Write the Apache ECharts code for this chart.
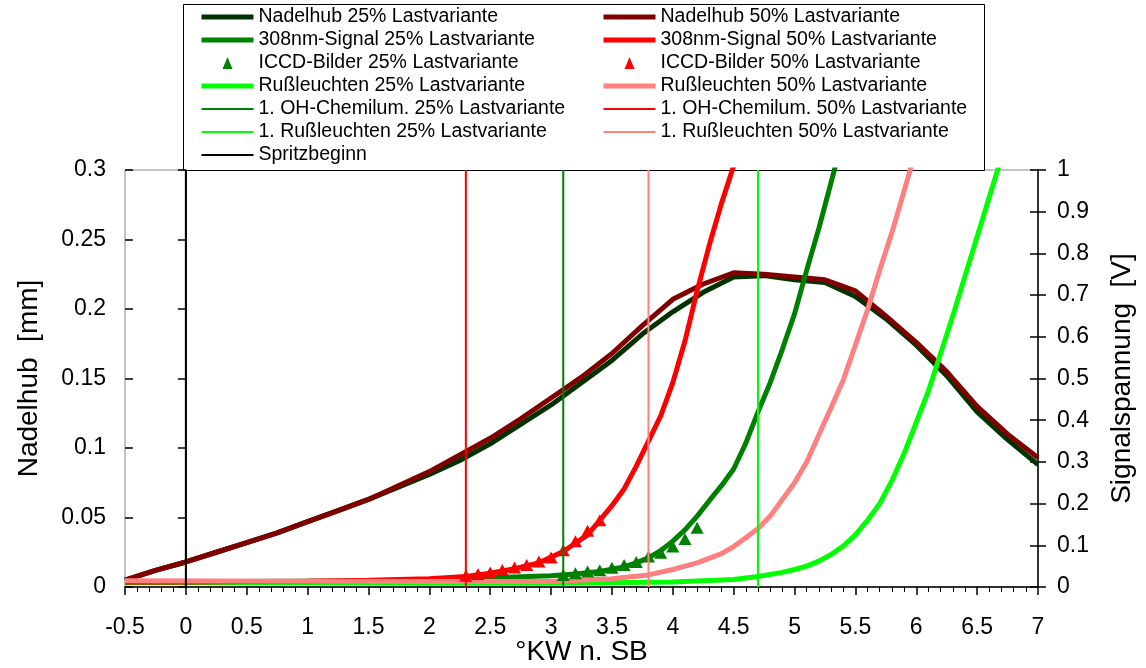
<!DOCTYPE html>
<html>
<head>
<meta charset="utf-8">
<script src="https://cdn.jsdelivr.net/npm/echarts@6/dist/echarts.min.js"></script>
<style>
html,body{margin:0;padding:0;background:#fff;}
#c{width:1146px;height:668px;}
</style>
</head>
<body>
<div id="c"></div>
<script>
// ---- data ----
const nadelX  = [-0.5,-0.25,0,0.25,0.5,0.75,1,1.25,1.5,1.75,2,2.25,2.5,2.75,3,3.25,3.5,3.75,4,4.25,4.5,4.75,5,5.25,5.5,5.75,6,6.25,6.5,6.75,7];
const nadel25 = [0.005,0.012,0.018,0.025,0.032,0.039,0.047,0.055,0.063,0.072,0.081,0.091,0.103,0.117,0.131,0.147,0.163,0.182,0.198,0.212,0.223,0.224,0.221,0.219,0.209,0.193,0.174,0.152,0.126,0.106,0.088];
const nadel50 = [0.005,0.012,0.018,0.025,0.032,0.039,0.047,0.055,0.063,0.073,0.083,0.095,0.107,0.121,0.136,0.151,0.168,0.188,0.207,0.218,0.226,0.225,0.223,0.221,0.213,0.195,0.176,0.155,0.130,0.110,0.093];

const sig25X = [-0.5,0.5,1.5,2,2.5,3,3.2,3.4,3.6,3.7,3.8,3.9,4,4.1,4.2,4.3,4.4,4.5,4.6,4.7,4.8,4.9,5,5.1,5.2,5.3,5.4];
const sig25  = [0.012,0.013,0.015,0.018,0.022,0.027,0.031,0.037,0.048,0.058,0.07,0.087,0.11,0.137,0.17,0.207,0.243,0.283,0.345,0.42,0.49,0.57,0.655,0.76,0.86,0.97,1.08];

const sig50X = [-0.5,0,0.5,1,1.5,2,2.3,2.5,2.7,2.9,3.1,3.3,3.4,3.5,3.6,3.7,3.8,3.9,4,4.1,4.2,4.3,4.4,4.5,4.6];
const sig50  = [0.012,0.012,0.013,0.014,0.016,0.02,0.025,0.033,0.044,0.058,0.085,0.125,0.16,0.195,0.235,0.29,0.35,0.41,0.49,0.59,0.71,0.82,0.92,1.01,1.12];

const russ25X = [-0.5,1,2,3,4,4.5,4.7,4.9,5,5.1,5.2,5.3,5.4,5.5,5.6,5.7,5.8,5.9,6,6.1,6.2,6.3,6.4,6.5,6.6,6.7];
const russ25  = [0.01,0.01,0.009,0.009,0.012,0.018,0.025,0.035,0.042,0.05,0.062,0.078,0.098,0.125,0.16,0.2,0.255,0.32,0.395,0.47,0.56,0.65,0.745,0.84,0.935,1.03];

const russ50X = [-0.5,1,2,3,3.5,3.8,4,4.2,4.4,4.5,4.6,4.7,4.8,4.9,5,5.1,5.2,5.3,5.4,5.5,5.6,5.7,5.8,5.9,6];
const russ50  = [0.015,0.014,0.013,0.013,0.02,0.029,0.042,0.058,0.08,0.097,0.118,0.14,0.17,0.21,0.25,0.3,0.365,0.43,0.496,0.58,0.665,0.76,0.85,0.95,1.05];

const iccd25X = [3.1,3.2,3.3,3.4,3.5,3.6,3.7,3.8,3.9,4.0,4.1,4.2];
const iccd25  = [0.029,0.033,0.037,0.04,0.046,0.053,0.06,0.073,0.082,0.097,0.115,0.142];

const iccd50X = [2.3,2.4,2.5,2.6,2.7,2.8,2.9,3.0,3.1,3.2,3.3,3.4];
const iccd50  = [0.027,0.031,0.035,0.041,0.047,0.053,0.061,0.071,0.088,0.11,0.135,0.16];

const spritzbeginn = 0;
const ohStart25 = 3.1;
const ohStart50 = 2.3;
const russStart25 = 4.7;
const russStart50 = 3.8;

const xTicks = {min: -0.5, max: 7, interval: 0.5};
const yLeftTicks = {min: 0, max: 0.3, interval: 0.05};
const yRightTicks = {min: 0, max: 1, interval: 0.1};

const names = {
  n25: 'Nadelhub 25% Lastvariante', n50: 'Nadelhub 50% Lastvariante',
  s25: '308nm-Signal 25% Lastvariante', s50: '308nm-Signal 50% Lastvariante',
  i25: 'ICCD-Bilder 25% Lastvariante', i50: 'ICCD-Bilder 50% Lastvariante',
  r25: 'Rußleuchten 25% Lastvariante', r50: 'Rußleuchten 50% Lastvariante',
  o25: '1. OH-Chemilum. 25% Lastvariante', o50: '1. OH-Chemilum. 50% Lastvariante',
  f25: '1. Rußleuchten 25% Lastvariante', f50: '1. Rußleuchten 50% Lastvariante',
  sb: 'Spritzbeginn'
};

// ---- helpers ----
const zip = (xs, ys) => xs.map((x, i) => [x, ys[i]]);
const FONT = "'Liberation Sans', Arial, sans-serif";
const TRI_ICON = 'path://M0,0L0.01,0L0.01,0.01Z M52,12L52.01,12L52.01,11.99Z M21,12L26,0L31,12Z';

function lineSeries(name, xs, ys, color, width, yAxisIndex) {
  return {
    name, type: 'line', data: zip(xs, ys), yAxisIndex,
    showSymbol: false, symbol: 'none', smooth: false,
    lineStyle: {color, width}, itemStyle: {color},
    clip: true, z: 2
  };
}
function vLine(name, x, color) {
  return {
    name, type: 'line', yAxisIndex: 0,
    data: [[x, yLeftTicks.min], [x, yLeftTicks.max]],
    showSymbol: false, symbol: 'none',
    lineStyle: {color, width: 2}, itemStyle: {color}, z: 4
  };
}
function triSeries(name, xs, ys, color) {
  return {
    name, type: 'scatter', yAxisIndex: 1, data: zip(xs, ys),
    symbol: 'triangle', symbolSize: [13, 12],
    itemStyle: {color, opacity: 1}, z: 3
  };
}
const lineItem = (name) => ({name, itemStyle: {opacity: 0}});
const triItem = (name) => ({name, icon: TRI_ICON, itemStyle: {opacity: 1}});

const legendCommon = {
  orient: 'vertical', top: 7, padding: 0,
  itemWidth: 52, itemHeight: 12, itemGap: 3,
  textStyle: {fontFamily: FONT, fontSize: 19.5, color: '#000', lineHeight: 20},
  lineStyle: {width: 'inherit'},
  selectedMode: false
};

const chart = echarts.init(document.getElementById('c'), null, {renderer: 'canvas'});
chart.setOption({
  animation: false,
  backgroundColor: '#fff',
  textStyle: {fontFamily: FONT},
  grid: {left: 125, right: 108, top: 170, bottom: 81, containLabel: false, outerBoundsMode: 'none',
         show: true, borderColor: '#888', borderWidth: 1, backgroundColor: 'transparent'},
  graphic: [{
    type: 'rect', left: 183, top: 4, z: 0,
    shape: {width: 801, height: 166},
    style: {fill: '#fff', stroke: '#000', lineWidth: 1}
  }],
  legend: [
    Object.assign({}, legendCommon, {left: 199, data: [lineItem(names.n25), lineItem(names.s25), triItem(names.i25), lineItem(names.r25), lineItem(names.o25), lineItem(names.f25), lineItem(names.sb)]}),
    Object.assign({}, legendCommon, {left: 601, data: [lineItem(names.n50), lineItem(names.s50), triItem(names.i50), lineItem(names.r50), lineItem(names.o50), lineItem(names.f50)]})
  ],
  xAxis: {
    type: 'value', min: xTicks.min, max: xTicks.max, interval: xTicks.interval,
    name: '°KW n. SB', nameLocation: 'middle', nameGap: 51, nameMoveOverlap: false,
    nameTextStyle: {fontFamily: FONT, fontSize: 28, color: '#000'},
    axisLine: {lineStyle: {color: '#000', width: 1.5}, onZero: false},
    axisTick: {length: 8, lineStyle: {color: '#000', width: 1.5}},
    minorTick: {show: true, splitNumber: 5, length: 5, lineStyle: {color: '#000', width: 1}},
    axisLabel: {fontFamily: FONT, fontSize: 23, color: '#000', margin: 29},
    splitLine: {show: false}
  },
  yAxis: [{
    type: 'value', position: 'left', min: yLeftTicks.min, max: yLeftTicks.max, interval: yLeftTicks.interval,
    name: 'Nadelhub  [mm]', nameLocation: 'middle', nameGap: 82, nameRotate: 90, nameMoveOverlap: false,
    nameTextStyle: {fontFamily: FONT, fontSize: 28, color: '#000'},
    axisLine: {show: true, lineStyle: {color: '#000', width: 1.5}},
    axisTick: {show: true, length: 8, lineStyle: {color: '#000', width: 1.5}},
    axisLabel: {fontFamily: FONT, fontSize: 23, color: '#000', margin: 19},
    splitLine: {show: false}
  }, {
    type: 'value', position: 'right', min: yRightTicks.min, max: yRightTicks.max, interval: yRightTicks.interval,
    name: 'Signalspannung  [V]', nameLocation: 'middle', nameGap: 70, nameRotate: 90, nameMoveOverlap: false,
    nameTextStyle: {fontFamily: FONT, fontSize: 28, color: '#000'},
    axisLine: {show: true, lineStyle: {color: '#000', width: 1.5}},
    axisTick: {show: true, length: 8, lineStyle: {color: '#000', width: 1.5}},
    axisLabel: {fontFamily: FONT, fontSize: 23, color: '#000', margin: 19},
    splitLine: {show: false}
  }, {
    type: 'value', position: 'left', min: yLeftTicks.min, max: yLeftTicks.max, interval: yLeftTicks.interval,
    axisLine: {show: false}, axisLabel: {show: false}, splitLine: {show: false},
    axisTick: {show: true, inside: true, length: 8, lineStyle: {color: '#000', width: 1.5}}
  }, {
    type: 'value', position: 'right', min: yRightTicks.min, max: yRightTicks.max, interval: yRightTicks.interval,
    axisLine: {show: false}, axisLabel: {show: false}, splitLine: {show: false},
    axisTick: {show: true, inside: true, length: 8, lineStyle: {color: '#000', width: 1.5}}
  }],
  series: [
    lineSeries(names.n25, nadelX, nadel25, '#003300', 5, 0),
    lineSeries(names.n50, nadelX, nadel50, '#800000', 5, 0),
    lineSeries(names.r25, russ25X, russ25, '#00ff00', 5, 1),
    lineSeries(names.s25, sig25X, sig25, '#008000', 5, 1),
    lineSeries(names.s50, sig50X, sig50, '#ff0000', 5, 1),
    lineSeries(names.r50, russ50X, russ50, '#ff8080', 5, 1),
    triSeries(names.i25, iccd25X, iccd25, '#008000'),
    triSeries(names.i50, iccd50X, iccd50, '#ff0000'),
    vLine(names.o25, ohStart25, '#008000'),
    vLine(names.o50, ohStart50, '#ff0000'),
    vLine(names.f25, russStart25, '#00ff00'),
    vLine(names.f50, russStart50, '#ff8080'),
    vLine(names.sb, spritzbeginn, '#000000')
  ]
});
</script>
</body>
</html>
